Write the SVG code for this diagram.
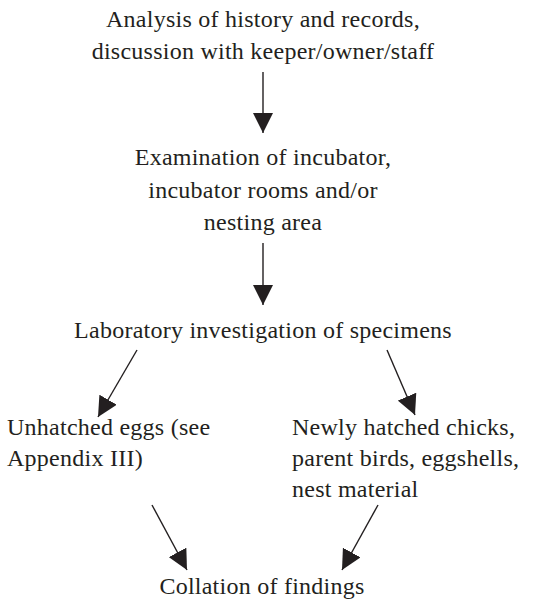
<svg xmlns="http://www.w3.org/2000/svg" width="551" height="600" viewBox="0 0 551 600">
<style>
text{font-family:"Liberation Serif","Times New Roman",serif;font-size:24px;letter-spacing:0.25px;fill:#231f20}
.c{text-anchor:middle}
.edge{stroke:#231f20;stroke-width:1.4;fill:none}
</style>
<defs>
<marker id="ah" markerUnits="userSpaceOnUse" markerWidth="20" markerHeight="20" viewBox="0 0 18 18" refX="18" refY="9" orient="auto">
<path d="M0,0 L18,9 L0,18 Z" fill="#231f20"/>
</marker>
</defs>
<rect width="551" height="600" fill="#fff"/>
<g id="n1"><text class="c" x="263" y="27">Analysis of history and records,</text><text class="c" x="263" y="59">discussion with keeper/owner/staff</text></g>
<g id="n2"><text class="c" x="263" y="165">Examination of incubator,</text><text class="c" x="263" y="198">incubator rooms and/or</text><text class="c" x="263" y="230">nesting area</text></g>
<g id="n3"><text class="c" x="263" y="338">Laboratory investigation of specimens</text></g>
<g id="n4"><text x="7" y="435">Unhatched eggs (see</text><text x="7" y="466">Appendix III)</text></g>
<g id="n5"><text x="292" y="435">Newly hatched chicks,</text><text x="292" y="466">parent birds, eggshells,</text><text x="292" y="497">nest material</text></g>
<g id="n6"><text class="c" x="262" y="594">Collation of findings</text></g>
<g id="edges">
<line class="edge" x1="263" y1="72" x2="263" y2="133" marker-end="url(#ah)"/>
<line class="edge" x1="263" y1="243" x2="263" y2="305" marker-end="url(#ah)"/>
<line class="edge" x1="137" y1="350" x2="98" y2="417" marker-end="url(#ah)"/>
<line class="edge" x1="387" y1="350" x2="415" y2="415" marker-end="url(#ah)"/>
<line class="edge" x1="152" y1="505" x2="187" y2="570" marker-end="url(#ah)"/>
<line class="edge" x1="378" y1="505" x2="342" y2="570" marker-end="url(#ah)"/>
</g>
</svg>
